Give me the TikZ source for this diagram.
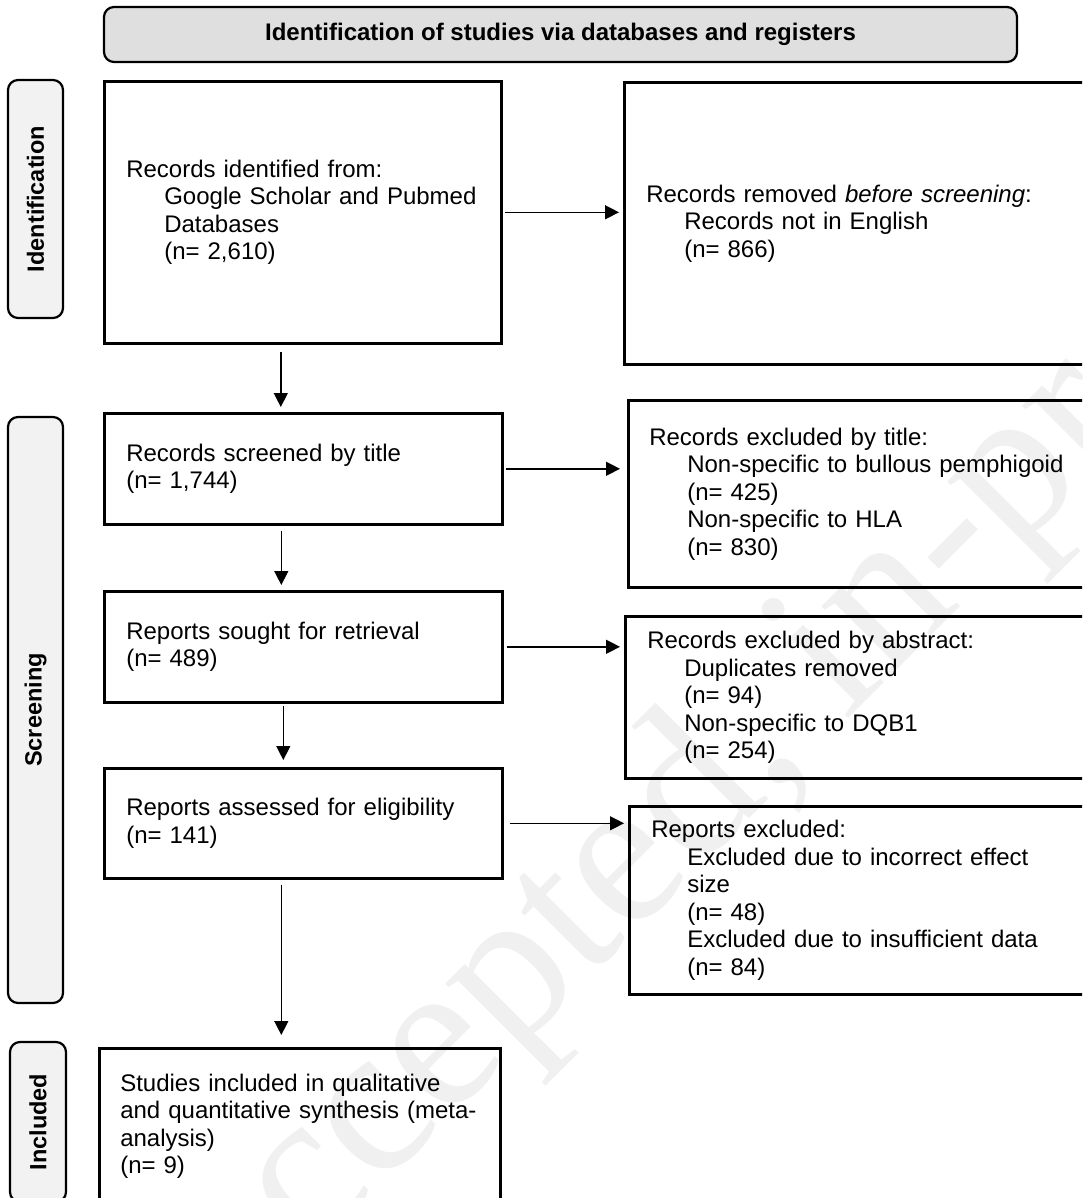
\documentclass[tikz,border=0pt]{standalone}
\usepackage{fontspec}
\setmainfont{Liberation Sans}
\newfontfamily\wmfont{Liberation Serif}
\usetikzlibrary{arrows.meta,calc}
\begin{document}
\begin{tikzpicture}[x=1pt,y=-1pt,
  box/.style={draw, line width=2.6pt, anchor=north west, align=left,
    inner ysep=0pt, font=\fontsize{24}{27.5}\selectfont},
  side/.style={draw, line width=2.2pt, rounded corners=10pt, fill=gray!10,
    rotate=90, inner sep=0pt, font=\fontsize{23.5}{26}\selectfont\bfseries},
  arr/.style={line width=1.4pt, -{Triangle[length=14pt,width=14pt]}},
]
\useasboundingbox (0,0) rectangle (1082,1198);
\clip (0,0) rectangle (1082,1198);
\fill[white] (0,0) rectangle (1082,1198);

% watermark
\node[text=gray!12, rotate=45, inner sep=0pt, font=\wmfont\fontsize{213}{213}\selectfont] (wm) at (726,769) {Accepted, in-press};

% banner
\node[draw, line width=2.2pt, rounded corners=10pt, fill=gray!25, minimum width=913pt, minimum height=55pt, inner sep=0pt,
  font=\fontsize{24}{27}\selectfont\bfseries] (banner) at (560.5,34.5) {Identification of studies via databases and registers};

% side labels
\node[side, minimum width=238pt, minimum height=55pt] (lid) at (35.5,199) {Identification};
\node[side, minimum width=586pt, minimum height=55pt] (lscr) at (35.5,710) {Screening};
\node[side, minimum width=160pt, minimum height=56pt] (linc) at (38,1122) {Included};

% left column
\node[box, inner xsep=22pt, text width=353pt, minimum height=262pt] (id) at (103,80)
  {Records identified from:\\\hspace*{38pt}Google Scholar and Pubmed\\\hspace*{38pt}Databases\\\hspace*{38pt}(n= 2,610)};
\node[box, inner xsep=22pt, text width=354pt, minimum height=111pt] (scr) at (103,412)
  {Records screened by title\\(n= 1,744)};
\node[box, inner xsep=22pt, text width=354pt, minimum height=111pt] (sought) at (103,590)
  {Reports sought for retrieval\\(n= 489)};
\node[box, inner xsep=22pt, text width=354pt, minimum height=110pt] (assess) at (103,767)
  {Reports assessed for eligibility\\(n= 141)};
\node[box, inner xsep=21pt, text width=359pt, minimum height=156pt] (incl) at (98,1047)
  {Studies included in qualitative\\and quantitative synthesis (meta-\\analysis)\\(n= 9)};

% right column
\node[box, inner xsep=22pt, text width=456pt, minimum height=282pt] (rem) at (623,81)
  {Records removed \textit{before screening}:\\\hspace*{38pt}Records not in English\\\hspace*{38pt}(n= 866)};
\node[box, inner xsep=21pt, text width=458pt, minimum height=187pt] (exttl) at (627,399)
  {Records excluded by title:\\\hspace*{38pt}Non-specific to bullous pemphigoid\\\hspace*{38pt}(n= 425)\\\hspace*{38pt}Non-specific to HLA\\\hspace*{38pt}(n= 830)};
\node[box, inner xsep=22pt, text width=456pt, minimum height=162pt] (exabs) at (624,615)
  {Records excluded by abstract:\\\hspace*{37pt}Duplicates removed\\\hspace*{37pt}(n= 94)\\\hspace*{37pt}Non-specific to DQB1\\\hspace*{37pt}(n= 254)};
\node[box, inner xsep=22pt, text width=456pt, minimum height=188pt] (exrep) at (628,805)
  {Reports excluded:\\\hspace*{36pt}Excluded due to incorrect effect\\\hspace*{36pt}size\\\hspace*{36pt}(n= 48)\\\hspace*{36pt}Excluded due to insufficient data\\\hspace*{36pt}(n= 84)};

% horizontal arrows
\draw[arr, shorten <=2pt, shorten >=4pt] (id.east) -- (id.east -| rem.west);
\draw[arr, shorten <=2pt, shorten >=7pt] (scr.east) -- (scr.east -| exttl.west);
\draw[arr, shorten <=3pt, shorten >=4pt] (sought.east) -- (sought.east -| exabs.west);
\draw[arr, shorten <=6pt, shorten >=4pt] (assess.east) -- (assess.east -| exrep.west);

% vertical arrows
\draw[arr, shorten <=7pt, shorten >=5pt] ([xshift=-22pt]id.south) -- ([xshift=-22pt]id.south |- scr.north);
\draw[arr, shorten <=5pt, shorten >=5pt] ([xshift=-22pt]scr.south) -- ([xshift=-22pt]scr.south |- sought.north);
\draw[arr, shorten <=2pt, shorten >=7pt] ([xshift=-20pt]sought.south) -- ([xshift=-20pt]sought.south |- assess.north);
\draw[arr, shorten <=5pt, shorten >=12pt] ([xshift=-22pt]assess.south) -- ([xshift=-22pt]assess.south |- incl.north);
\end{tikzpicture}
\end{document}
